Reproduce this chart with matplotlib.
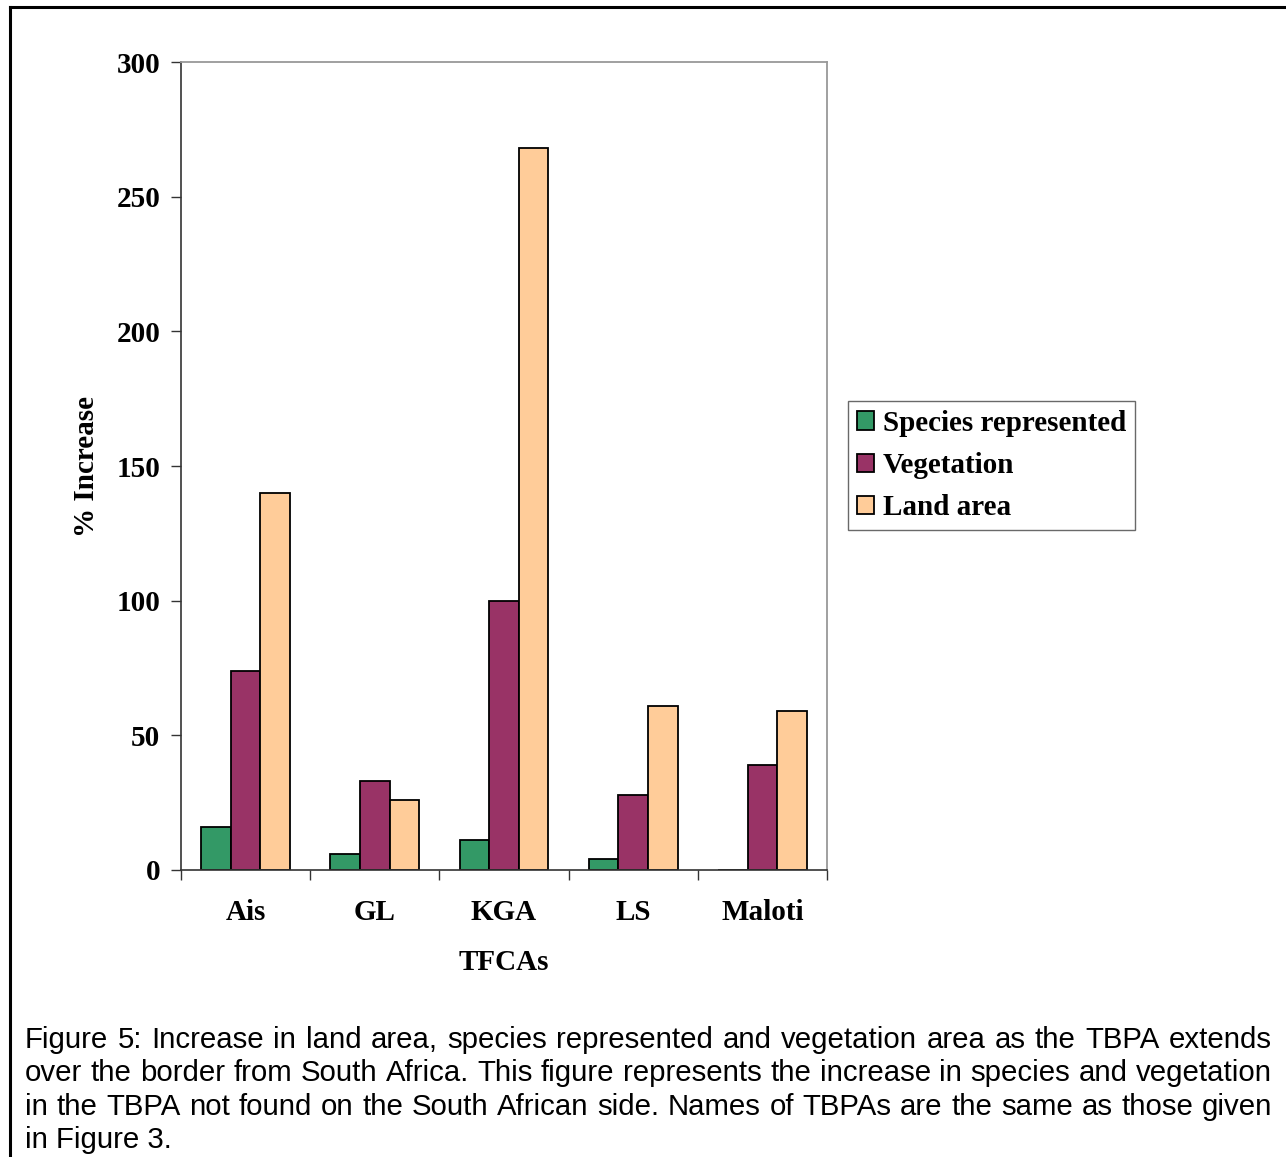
import matplotlib
matplotlib.use("Agg")
import matplotlib.pyplot as plt
import numpy as np

SITES = ["Ais", "GL", "KGA", "LS", "Maloti"]
SPECIES = [16, 6, 11, 4, 0]
VEGETATION = [74, 33, 100, 28, 39]
LAND_AREA = [140, 26, 268, 61, 59]
SERIES = ["Species represented", "Vegetation", "Land area"]
COLORS = ["#339966", "#993366", "#FFCC99"]
CAPTION = [
    "Figure 5: Increase in land area, species represented and vegetation area as the TBPA extends",
    "over the border from South Africa. This figure represents the increase in species and vegetation",
    "in the TBPA not found on the South African side. Names of TBPAs are the same as those given",
    "in Figure 3.",
]

SERIF = "Liberation Serif"
SANS = "Liberation Sans"
FS = 21

fig = plt.figure(figsize=(12.86, 11.57), dpi=100)
W, H = 1286, 1157
ax = fig.add_axes([181 / W, 1 - 870 / H, 646 / W, 808 / H])

x = np.arange(len(SITES))
bw = 0.229
for k, (vals, col, name) in enumerate(zip([SPECIES, VEGETATION, LAND_AREA], COLORS, SERIES)):
    ax.bar(x + (k - 1) * bw, vals, bw, color=col, edgecolor="black", linewidth=1.3, label=name)

ax.set_xlim(-0.5, len(SITES) - 0.5)
ax.set_ylim(0, 300)
ax.set_yticks(range(0, 301, 50))
ax.set_yticklabels([str(v) for v in range(0, 301, 50)], fontfamily=SERIF, fontweight="bold", fontsize=FS)
ax.set_xticks(np.arange(-0.5, len(SITES), 1.0))
ax.set_xticklabels([])
ax.tick_params(axis="both", direction="out", length=7, width=1, color="#333333", pad=8)
for i, s in enumerate(SITES):
    ax.text(i, -0.052, s, transform=ax.get_xaxis_transform(), ha="center", va="center",
            fontfamily=SERIF, fontweight="bold", fontsize=FS)
ax.text(0.5, -0.114, "TFCAs", transform=ax.transAxes, ha="center", va="center",
        fontfamily=SERIF, fontweight="bold", fontsize=FS)
ax.set_ylabel("% Increase", fontfamily=SERIF, fontweight="bold", fontsize=FS, labelpad=12)

for side in ("top", "right"):
    ax.spines[side].set_color("#999999")
    ax.spines[side].set_linewidth(1.3)
for side in ("left", "bottom"):
    ax.spines[side].set_color("#333333")
    ax.spines[side].set_linewidth(1.2)

leg = fig.legend(loc="upper left", bbox_to_anchor=(848 / W, 1 - 401 / H), frameon=True,
                 fancybox=False, edgecolor="#444444", borderpad=0.3, labelspacing=0.52,
                 handlelength=0.58, handleheight=0.58, handletextpad=0.32, borderaxespad=0,
                 prop={"family": SERIF, "weight": "bold", "size": FS})
leg.get_frame().set_linewidth(1.0)

# outer frame around the chart
fig.add_artist(plt.Line2D([9.5 / W, 9.5 / W], [0, 1 - 7 / H], color="black", lw=2.2))
fig.add_artist(plt.Line2D([9.5 / W, 1], [1 - 7 / H, 1 - 7 / H], color="black", lw=2.2))

# justified caption lines
fig.canvas.draw()
renderer = fig.canvas.get_renderer()
left_px, right_px = 25, 1272
line_y = [1040, 1073, 1107, 1140]

# pick a size so the longest line just fits the text block
probe = [fig.text(0, 0, ln, fontfamily=SANS, fontsize=16) for ln in CAPTION[:3]]
widest = max(p.get_window_extent(renderer).width for p in probe)
for p in probe:
    p.remove()
cap_fs = 16 * (right_px - left_px) / widest * 0.995

for li, (line, yp) in enumerate(zip(CAPTION, line_y)):
    words = line.split(" ")
    ypos = 1 - yp / H
    if li == len(CAPTION) - 1:
        fig.text(left_px / W, ypos, line, ha="left", va="center", fontfamily=SANS, fontsize=cap_fs)
        continue
    arts = [fig.text(0, ypos, w, ha="left", va="center", fontfamily=SANS, fontsize=cap_fs) for w in words]
    widths = [a.get_window_extent(renderer).width for a in arts]
    gap = (right_px - left_px - sum(widths)) / (len(words) - 1)
    xp = left_px
    for a, wd in zip(arts, widths):
        a.set_x(xp / W)
        xp += wd + gap

fig.savefig("out.png", dpi=100)
